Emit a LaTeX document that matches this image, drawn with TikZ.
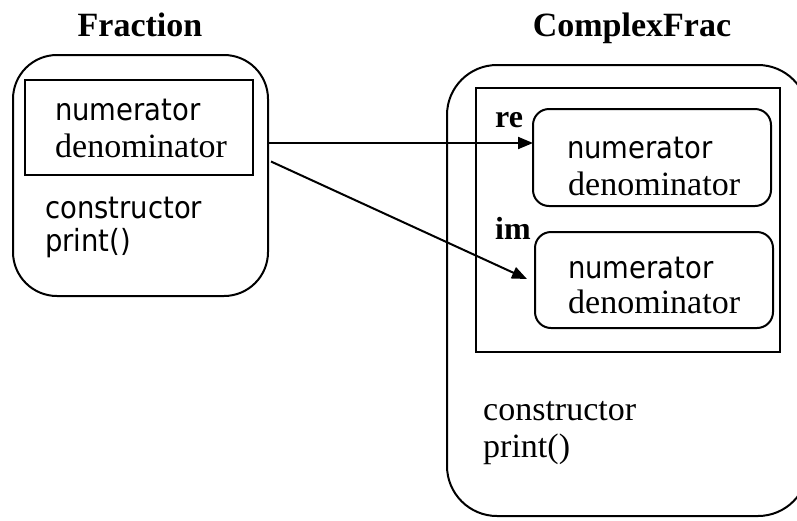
\documentclass[tikz,border=0pt]{standalone}
\usepackage{fontspec}
\setmainfont{Liberation Serif}
\newfontfamily\tahfont{DejaVu Sans Condensed}
\usetikzlibrary{arrows.meta}
\tikzset{
  boxline/.style={draw, line width=2pt, inner sep=0pt, outer sep=0pt},
  outerbox/.style={boxline, rounded corners=44pt},
  bigbox/.style={boxline, rounded corners=50pt},
  fieldbox/.style={boxline, rounded corners=16pt},
  plainbox/.style={boxline},
  sanstxt/.style={anchor=base west, inner sep=0pt, font=\tahfont\fontsize{30.5}{36}\selectfont},
  seriftxt/.style={anchor=base west, inner sep=0pt, font=\fontsize{34}{40}\selectfont},
  titletxt/.style={anchor=base, inner sep=0pt, font=\bfseries\fontsize{34}{40}\selectfont},
  labeltxt/.style={anchor=base west, inner sep=0pt, font=\bfseries\fontsize{32}{38}\selectfont},
  conn/.style={line width=2pt, -{Triangle[length=15pt,width=12pt]}}
}
\begin{document}
\begin{tikzpicture}[x=1pt,y=-1pt]
\useasboundingbox (0,0) rectangle (797,520);
% Fraction
\node[titletxt] (t1) at (140,36) {Fraction};
\node[outerbox, minimum width=255pt, minimum height=241pt] (frac) at (140.5,175.5) {};
\node[plainbox, minimum width=228pt, minimum height=95pt] (fracin) at (139,127.5) {};
\node[sanstxt] (fn) at (55,120) {numerator};
\node[seriftxt] (fd) at (55,157) {denominator};
\node[sanstxt] (fc) at (45,218) {constructor};
\node[sanstxt] (fp) at (45,251) {print()};
% ComplexFrac
\node[titletxt] (t2) at (632,36) {ComplexFrac};
\begin{scope}
\clip (0,0) rectangle (797,520);
\node[bigbox, minimum width=361pt, minimum height=451pt] (cfrac) at (627.5,290.5) {};
\end{scope}
\node[plainbox, minimum width=304pt, minimum height=264pt] (cin) at (628,220) {};
\node[fieldbox, minimum width=238pt, minimum height=97pt] (re) at (652,157.5) {};
\node[fieldbox, minimum width=238pt, minimum height=96pt] (im) at (654,280) {};
\node[labeltxt] (lre) at (495,127) {re};
\node[labeltxt] (lim) at (495,239) {im};
\node[sanstxt] (rn) at (567,158) {numerator};
\node[seriftxt] (rd) at (568,195) {denominator};
\node[sanstxt] (in) at (568,278) {numerator};
\node[seriftxt] (id) at (568,313) {denominator};
\node[seriftxt] (cc) at (483,420) {constructor};
\node[seriftxt] (cp) at (483,457) {print()};
% connectors
\coordinate (a1s) at ([yshift=32.5pt]frac.east);
\coordinate (a1e) at ([yshift=14.5pt]re.west);
\coordinate (a2s) at ([xshift=3pt,yshift=14pt]frac.east);
\coordinate (a2e) at (527,279);
\draw[conn] (a1s) -- (a1e);
\draw[conn] (a2s) -- (a2e);
\end{tikzpicture}
\end{document}
